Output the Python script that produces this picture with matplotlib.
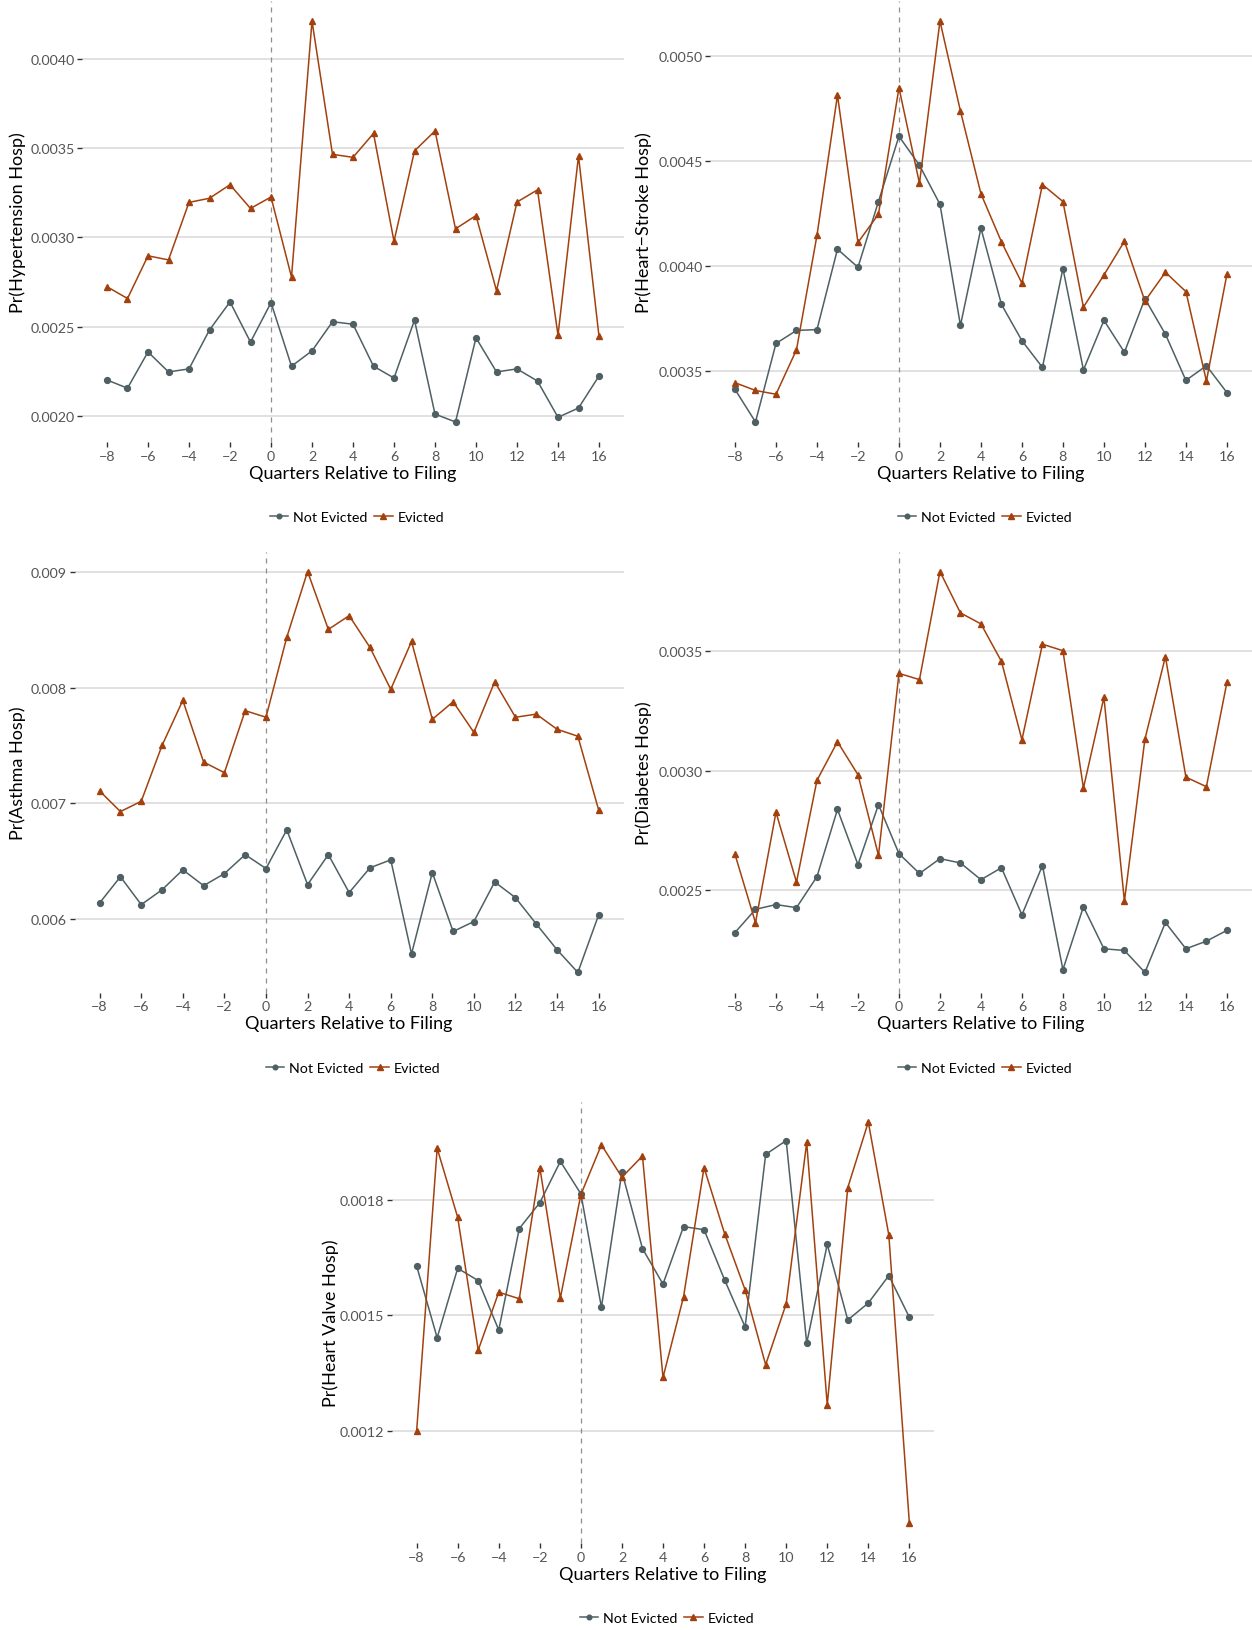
import matplotlib
matplotlib.use('Agg')
import matplotlib.pyplot as plt
from matplotlib.ticker import FixedLocator, FormatStrFormatter

plt.rcParams['font.family'] = ['Lato', 'DejaVu Sans']
plt.rcParams['axes.unicode_minus'] = True

quarters = list(range(-8, 17))
xticks = list(range(-8, 17, 2))

hyp_not = [0.002201, 0.002155, 0.002358, 0.002246, 0.002263, 0.002481, 0.002638, 0.002413, 0.002634,
           0.002278, 0.002364, 0.002527, 0.002513, 0.002278, 0.002212, 0.002536, 0.002010, 0.001966,
           0.002437, 0.002246, 0.002263, 0.002195, 0.001992, 0.002044, 0.002223]
hyp_ev = [0.002723, 0.002657, 0.002896, 0.002873, 0.003195, 0.003218, 0.003294, 0.003161, 0.003225,
          0.002777, 0.004210, 0.003464, 0.003447, 0.003581, 0.002977, 0.003483, 0.003595, 0.003047,
          0.003121, 0.002701, 0.003197, 0.003265, 0.002451, 0.003455, 0.002445]

stroke_not = [0.003413, 0.003258, 0.003632, 0.003694, 0.003698, 0.004081, 0.003995, 0.004308, 0.004619,
              0.004481, 0.004295, 0.003718, 0.004181, 0.003818, 0.003645, 0.003518, 0.003989, 0.003506,
              0.003742, 0.003590, 0.003845, 0.003676, 0.003456, 0.003526, 0.003398]
stroke_ev = [0.003445, 0.003408, 0.003390, 0.003602, 0.004147, 0.004815, 0.004113, 0.004248, 0.004850,
             0.004395, 0.005168, 0.004739, 0.004345, 0.004116, 0.003919, 0.004389, 0.004308, 0.003805,
             0.003958, 0.004119, 0.003834, 0.003971, 0.003879, 0.003453, 0.003961]

asth_not = [0.006140, 0.006366, 0.006125, 0.006253, 0.006426, 0.006289, 0.006393, 0.006557, 0.006437,
            0.006771, 0.006298, 0.006557, 0.006229, 0.006443, 0.006512, 0.005699, 0.006402, 0.005893,
            0.005979, 0.006321, 0.006185, 0.005958, 0.005735, 0.005539, 0.006036]
asth_ev = [0.007107, 0.006929, 0.007018, 0.007500, 0.007890, 0.007357, 0.007265, 0.007801, 0.007744,
           0.008435, 0.009003, 0.008503, 0.008622, 0.008348, 0.007985, 0.008399, 0.007726, 0.007878,
           0.007613, 0.008051, 0.007744, 0.007771, 0.007640, 0.007580, 0.006943]

diab_not = [0.002324, 0.002421, 0.002441, 0.002428, 0.002558, 0.002839, 0.002608, 0.002859, 0.002654,
            0.002571, 0.002633, 0.002615, 0.002545, 0.002595, 0.002398, 0.002604, 0.002169, 0.002432,
            0.002256, 0.002249, 0.002157, 0.002366, 0.002256, 0.002288, 0.002333]
diab_ev = [0.002651, 0.002365, 0.002827, 0.002535, 0.002961, 0.003122, 0.002984, 0.002647, 0.003408,
           0.003382, 0.003834, 0.003661, 0.003615, 0.003458, 0.003130, 0.003530, 0.003503, 0.002928,
           0.003308, 0.002455, 0.003133, 0.003478, 0.002974, 0.002934, 0.003370]

valve_not = [0.001628, 0.001442, 0.001622, 0.001590, 0.001462, 0.001725, 0.001792, 0.001899, 0.001815,
             0.001521, 0.001872, 0.001673, 0.001581, 0.001730, 0.001722, 0.001592, 0.001470, 0.001917,
             0.001953, 0.001428, 0.001684, 0.001488, 0.001532, 0.001603, 0.001495]
valve_ev = [0.001200, 0.001933, 0.001754, 0.001410, 0.001560, 0.001543, 0.001883, 0.001545, 0.001813,
            0.001942, 0.001858, 0.001913, 0.001339, 0.001548, 0.001883, 0.001712, 0.001566, 0.001372,
            0.001530, 0.001948, 0.001268, 0.001831, 0.002001, 0.001708, 0.000962]

hyp_ticks = [0.0020, 0.0025, 0.0030, 0.0035, 0.0040]
stroke_ticks = [0.0035, 0.0040, 0.0045, 0.0050]
asth_ticks = [0.006, 0.007, 0.008, 0.009]
diab_ticks = [0.0025, 0.0030, 0.0035]
valve_ticks = [0.0012, 0.0015, 0.0018]

GREY = '#4e6064'
RUST = '#a2410e'

W, H = 1252, 1631
fig = plt.figure(figsize=(W / 100, H / 100), dpi=100)
fig.patch.set_facecolor('white')

ROW_STEP = 550.5


def panel(not_ev, ev, yticks, fmt, ylabel, left, right, cell_left, row):
    top = 2 + ROW_STEP * row
    bottom = 443 + ROW_STEP * row
    ax = fig.add_axes([left / W, 1 - bottom / H, (right - left) / W, (bottom - top) / H])

    lo = min(min(not_ev), min(ev))
    hi = max(max(not_ev), max(ev))
    pad = 0.05 * (hi - lo)
    ax.set_ylim(lo - pad, hi + pad)
    ax.set_xlim(-9.2, 17.2)

    ax.axvline(0, color='#8f8f8f', lw=0.9, ls=(0, (4, 4)), zorder=1)
    l1, = ax.plot(quarters, not_ev, color=GREY, lw=1.1, marker='o', ms=4.2, zorder=3,
                  label='Not Evicted')
    l2, = ax.plot(quarters, ev, color=RUST, lw=1.1, marker='^', ms=5, zorder=3,
                  label='Evicted')

    for s in ax.spines.values():
        s.set_visible(False)
    ax.yaxis.set_major_locator(FixedLocator(yticks))
    ax.yaxis.set_major_formatter(FormatStrFormatter(fmt))
    ax.set_xticks(xticks)
    ax.yaxis.grid(True, color='#d9d9d9', lw=1.1)
    ax.xaxis.grid(False)
    ax.set_axisbelow(True)
    ax.tick_params(length=3.5, width=1, color='#333333', labelcolor='#555555',
                   labelsize=10.3, pad=2)

    cx = (left + right) / 2
    fig.text(cx / W, 1 - (474 + ROW_STEP * row) / H, 'Quarters Relative to Filing',
             ha='center', va='center', fontsize=13, color='black')
    fig.text((cell_left + 18) / W, 1 - (top + bottom) / 2 / H, ylabel,
             ha='center', va='center', rotation=90, fontsize=13, color='black')
    ax.legend(handles=[l1, l2], loc='center', ncol=2, frameon=False,
              bbox_to_anchor=((cx + 4) / W, 1 - (518 + ROW_STEP * row) / H),
              bbox_transform=fig.transFigure, fontsize=10.3,
              handlelength=1.3, handletextpad=0.35, columnspacing=0.45,
              markerscale=0.8)
    return ax


panel(hyp_not, hyp_ev, hyp_ticks, '%.4f', 'Pr(Hypertension Hosp)', 82.4, 623.6, 0, 0)
panel(stroke_not, stroke_ev, stroke_ticks, '%.4f', 'Pr(Heart\u2212Stroke Hosp)', 710.4, 1251.5, 626, 0)
panel(asth_not, asth_ev, asth_ticks, '%.3f', 'Pr(Asthma Hosp)', 74.7, 623.6, 0, 1)
panel(diab_not, diab_ev, diab_ticks, '%.4f', 'Pr(Diabetes Hosp)', 710.4, 1251.5, 626, 1)
panel(valve_not, valve_ev, valve_ticks, '%.4f', 'Pr(Heart Valve Hosp)', 392, 934, 313, 2)

fig.savefig('out.png', dpi=100, facecolor='white')
